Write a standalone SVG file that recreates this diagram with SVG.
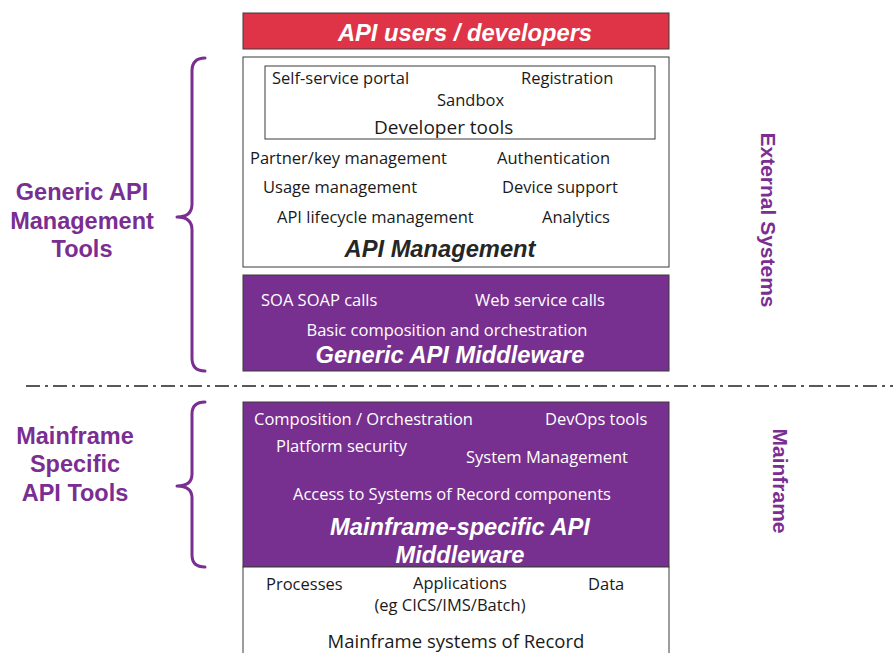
<svg xmlns="http://www.w3.org/2000/svg" width="893" height="653" viewBox="0 0 893 653">
<style>
.box{stroke:#3a3a3a;stroke-width:1}
.t{font-family:"Open Sans","Noto Sans",sans-serif;font-size:16.5px;fill:#1a1a1a}
.big{font-size:19px}
.w{font-family:"Open Sans","Noto Sans",sans-serif;font-size:16.5px;fill:#ffffff}
.title{font-family:"Liberation Sans",Arial,sans-serif;font-weight:bold;font-style:italic;font-size:23.7px;text-anchor:middle}
.lbl{font-family:"Liberation Sans",Arial,sans-serif;font-weight:bold;font-size:23.5px;fill:#7a2e91;text-anchor:middle}
.vlbl{font-size:21px}
.brace{fill:none;stroke:#7a2e91;stroke-width:3;stroke-linecap:round;stroke-linejoin:round}
</style>
<rect width="893" height="653" fill="#ffffff"/>
<g id="users">
<rect class="box" x="243" y="13" width="426" height="36" fill="#df3447"/>
<text class="title" x="465" y="41" fill="#ffffff">API users / developers</text>
</g>
<g id="apimgmt">
<rect class="box" x="243" y="57" width="426" height="210" fill="#ffffff"/>
<rect class="box" x="265" y="66" width="390" height="73" fill="#ffffff"/>
<text class="t" x="272" y="84">Self-service portal</text>
<text class="t" x="521" y="84">Registration</text>
<text class="t" x="437" y="106">Sandbox</text>
<text class="t big" x="374" y="134">Developer tools</text>
<text class="t" x="250" y="164">Partner/key management</text>
<text class="t" x="497" y="164">Authentication</text>
<text class="t" x="263" y="193">Usage management</text>
<text class="t" x="502" y="193">Device support</text>
<text class="t" x="277" y="223">API lifecycle management</text>
<text class="t" x="542" y="223">Analytics</text>
<text class="title" x="440" y="257" fill="#262626">API Management</text>
</g>
<g id="generic-mw">
<rect class="box" x="243" y="275" width="426" height="96" fill="#77308f"/>
<text class="w" x="261" y="306">SOA SOAP calls</text>
<text class="w" x="475" y="306">Web service calls</text>
<text class="w" x="447" y="336" text-anchor="middle">Basic composition and orchestration</text>
<text class="title" x="450" y="363" fill="#ffffff">Generic API Middleware</text>
</g>
<g id="connectors">
<line x1="26" y1="386" x2="893" y2="386" stroke="#222" stroke-width="1.6" stroke-dasharray="14,5,3,5"/>
<path class="brace" d="M205,58 Q192,58 192,71 L192,204 Q192,217 177,217 Q192,217 192,230 L192,358 Q192,371 205,371"/>
<path class="brace" d="M205,402 Q192,402 192,414 L192,474 Q192,486 177,486 Q192,486 192,498 L192,555 Q192,567 205,567"/>
</g>
<g id="mf-mw">
<rect class="box" x="243" y="402" width="426" height="165" fill="#77308f"/>
<text class="w" x="254" y="425">Composition / Orchestration</text>
<text class="w" x="545" y="425">DevOps tools</text>
<text class="w" x="276" y="452">Platform security</text>
<text class="w" x="466" y="463">System Management</text>
<text class="w" x="293" y="500">Access to Systems of Record components</text>
<text class="title" x="460" y="535" fill="#ffffff">Mainframe-specific API</text>
<text class="title" x="460" y="563" fill="#ffffff">Middleware</text>
</g>
<g id="sor">
<rect class="box" x="243" y="567" width="426" height="100" fill="#ffffff"/>
<text class="t" x="266" y="590">Processes</text>
<text class="t" x="460" y="589" text-anchor="middle">Applications</text>
<text class="t" x="450" y="611" text-anchor="middle">(eg CICS/IMS/Batch)</text>
<text class="t" x="588" y="590">Data</text>
<text class="t" x="456" y="648" text-anchor="middle" style="font-size:18.5px">Mainframe systems of Record</text>
</g>
<g id="labels">
<text class="lbl" x="82" y="200">Generic API</text>
<text class="lbl" x="82" y="229">Management</text>
<text class="lbl" x="82" y="257">Tools</text>
<text class="lbl" x="75" y="444">Mainframe</text>
<text class="lbl" x="75" y="472">Specific</text>
<text class="lbl" x="75" y="501">API Tools</text>
<text class="lbl vlbl" transform="translate(761,220) rotate(90)">External Systems</text>
<text class="lbl vlbl" transform="translate(773,481) rotate(90)">Mainframe</text>
</g>
</svg>
